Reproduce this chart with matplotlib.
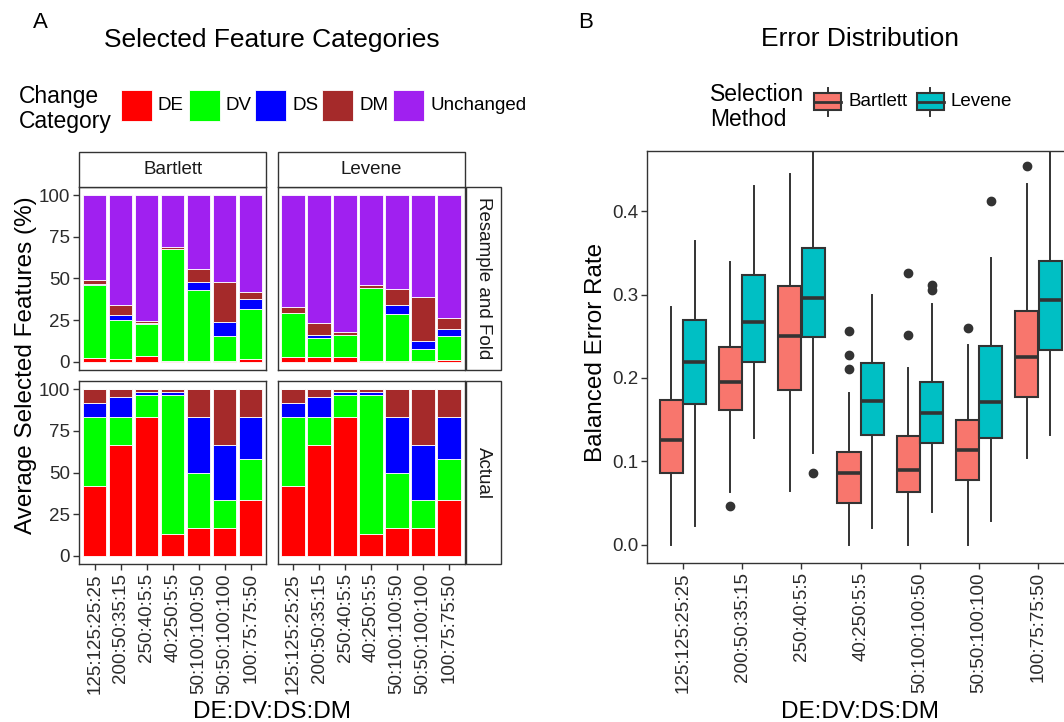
import matplotlib.pyplot as plt
from matplotlib.patches import Rectangle

plt.rcParams['font.family'] = ['Liberation Sans', 'DejaVu Sans']

W, H = 1064, 722
EDGE = '#333333'

ratios = ["125:125:25:25", "200:50:35:15", "250:40:5:5", "40:250:5:5",
          "50:100:100:50", "50:50:100:100", "100:75:75:50"]
categories = ["DE", "DV", "DS", "DM", "Unchanged"]
category_colors = ["#FF0000", "#00FF00", "#0000FF", "#A52A2A", "#A020F0"]
methods = ["Bartlett", "Levene"]
method_colors = ["#F8766D", "#00BFC4"]
rows = ["Resample and Fold", "Actual"]

# average selected features (%), rows in order of categories
resample_bartlett = [
    [2.0, 1.6, 3.4, 0.4, 0.5, 0.3, 1.6],
    [44.0, 23.2, 19.2, 67.0, 42.3, 15.3, 29.8],
    [0.5, 3.2, 0.4, 0.1, 5.2, 8.0, 6.4],
    [2.7, 6.0, 1.4, 1.5, 7.4, 24.4, 3.8],
    [50.8, 66.0, 75.6, 31.0, 44.6, 52.0, 58.4],
]
resample_levene = [
    [2.6, 2.8, 2.8, 0.3, 0.4, 0.3, 1.0],
    [26.4, 11.4, 13.0, 44.1, 28.2, 7.3, 14.2],
    [0.4, 1.8, 0.2, 0.1, 5.2, 4.6, 4.4],
    [3.6, 7.2, 1.8, 1.5, 9.6, 26.4, 6.6],
    [67.0, 76.8, 82.2, 54.0, 56.6, 61.4, 73.8],
]
actual = [
    [41.7, 66.7, 83.3, 13.3, 16.7, 16.7, 33.3],
    [41.7, 16.7, 13.3, 83.3, 33.3, 16.7, 25.0],
    [8.3, 11.7, 1.7, 1.7, 33.3, 33.3, 25.0],
    [8.3, 5.0, 1.7, 1.7, 16.7, 33.3, 16.7],
    [0, 0, 0, 0, 0, 0, 0],
]

# balanced error rate box stats
bartlett_whislo = [0.000, 0.063, 0.064, 0.000, 0.000, 0.000, 0.104]
bartlett_q1 = [0.086, 0.161, 0.186, 0.050, 0.063, 0.078, 0.177]
bartlett_med = [0.125, 0.195, 0.250, 0.086, 0.090, 0.114, 0.225]
bartlett_q3 = [0.174, 0.237, 0.310, 0.111, 0.130, 0.150, 0.280]
bartlett_whishi = [0.285, 0.339, 0.445, 0.182, 0.212, 0.239, 0.433]
bartlett_fliers = [[], [0.046], [], [0.211, 0.227, 0.256], [0.251, 0.326], [0.260], [0.455]]

levene_whislo = [0.022, 0.128, 0.110, 0.020, 0.039, 0.028, 0.132]
levene_q1 = [0.169, 0.219, 0.249, 0.131, 0.122, 0.128, 0.233]
levene_med = [0.219, 0.267, 0.296, 0.172, 0.158, 0.171, 0.294]
levene_q3 = [0.270, 0.324, 0.356, 0.218, 0.195, 0.238, 0.341]
levene_whishi = [0.365, 0.431, 0.490, 0.300, 0.289, 0.344, 0.480]
levene_fliers = [[], [], [0.086], [], [0.306, 0.312], [0.412], []]


def px_axes(fig, x0, y0, x1, y1):
    return fig.add_axes([x0 / W, 1 - y1 / H, (x1 - x0) / W, (y1 - y0) / H])


def style(ax):
    for s in ax.spines.values():
        s.set_color(EDGE)
        s.set_linewidth(1.0)
    ax.tick_params(length=4.5, width=1, color=EDGE, labelsize=13.5,
                   labelcolor='#2b2b2b', pad=2)


fig = plt.figure(figsize=(W / 100, H / 100), dpi=100)

# ---- panel A: stacked bars ----
col_x = [(79.2, 266.3), (277.6, 464.6)]
row_y = [(186.7, 370.0), (381.0, 564.3)]
facet_data = [[resample_bartlett, resample_levene], [actual, actual]]
xpos = list(range(1, len(ratios) + 1))

for r in range(2):
    for c in range(2):
        ax = px_axes(fig, col_x[c][0], row_y[r][0], col_x[c][1], row_y[r][1])
        bottom = [0.0] * len(ratios)
        for k, vals in enumerate(facet_data[r][c]):
            ax.bar(xpos, vals, 0.9, bottom=bottom, color=category_colors[k],
                   edgecolor='white', linewidth=0.6)
            bottom = [b + v for b, v in zip(bottom, vals)]
        ax.set_xlim(0.4, len(ratios) + 0.6)
        ax.set_ylim(-5, 105)
        style(ax)
        ax.set_yticks([0, 25, 50, 75, 100])
        ax.set_xticks(xpos)
        if c == 0:
            ax.set_yticklabels(['0', '25', '50', '75', '100'])
        else:
            ax.tick_params(axis='y', left=False, labelleft=False)
        if r == 1:
            ax.set_xticklabels(ratios, rotation=90)
        else:
            ax.tick_params(axis='x', bottom=False, labelbottom=False)

# ---- panel B: boxplots ----
axb = px_axes(fig, 647.3, 151.0, 1074.0, 563.3)
groups = [
    (bartlett_whislo, bartlett_q1, bartlett_med, bartlett_q3, bartlett_whishi, bartlett_fliers),
    (levene_whislo, levene_q1, levene_med, levene_q3, levene_whishi, levene_fliers),
]
for m, (lo, q1, med, q3, hi, fl) in enumerate(groups):
    stats = [dict(whislo=lo[i], q1=q1[i], med=med[i], q3=q3[i], whishi=hi[i], fliers=fl[i])
             for i in range(len(ratios))]
    offs = -0.197 if m == 0 else 0.197
    axb.bxp(stats, positions=[p + offs for p in xpos], widths=0.39, patch_artist=True,
            showcaps=False, manage_ticks=False,
            boxprops=dict(facecolor=method_colors[m], edgecolor=EDGE, linewidth=1.5),
            medianprops=dict(color=EDGE, linewidth=2.6),
            whiskerprops=dict(color=EDGE, linewidth=1.4),
            flierprops=dict(marker='o', markerfacecolor=EDGE, markeredgecolor=EDGE,
                            markersize=6))
axb.set_xlim(0.4, len(ratios) + 0.6)
axb.set_ylim(-0.0225, 0.4725)
style(axb)
axb.set_xticks(xpos)
axb.set_xticklabels(ratios, rotation=90)
axb.set_yticks([0.0, 0.1, 0.2, 0.3, 0.4])
axb.set_yticklabels(['0.0', '0.1', '0.2', '0.3', '0.4'])

# ---- overlay for strips, legends, titles ----
ov = fig.add_axes([0, 0, 1, 1])
ov.set_xlim(0, W)
ov.set_ylim(H, 0)
ov.axis('off')

for c in range(2):
    x0, x1 = col_x[c]
    ov.add_patch(Rectangle((x0, 151.7), x1 - x0, 186.7 - 151.7, facecolor='white',
                           edgecolor=EDGE, linewidth=1.0))
    ov.text((x0 + x1) / 2, 169.2, methods[c], ha='center', va='center', fontsize=13.5,
            color='#1A1A1A')
for r in range(2):
    y0, y1 = row_y[r]
    ov.add_patch(Rectangle((465.5, y0), 35.2, y1 - y0, facecolor='white',
                           edgecolor=EDGE, linewidth=1.0))
    ov.text(483.1, (y0 + y1) / 2, rows[r], ha='center', va='center', fontsize=13.5,
            rotation=-90, color='#1A1A1A')

# titles / panel tags
ov.text(40, 23, 'A', ha='center', va='center', fontsize=16)
ov.text(586, 23, 'B', ha='center', va='center', fontsize=16)
ov.text(272, 40, 'Selected Feature Categories', ha='center', va='center', fontsize=19)
ov.text(860, 39, 'Error Distribution', ha='center', va='center', fontsize=19)

# axis titles
ov.text(26, 365, 'Average Selected Features (%)', ha='center', va='center',
        rotation=90, fontsize=17.5)
ov.text(272, 712, 'DE:DV:DS:DM', ha='center', va='center', fontsize=17.5)
ov.text(596, 352, 'Balanced Error Rate', ha='center', va='center', rotation=90,
        fontsize=17.5)
ov.text(860, 712, 'DE:DV:DS:DM', ha='center', va='center', fontsize=17.5)

# legend A
ov.text(19, 109, 'Change\nCategory', ha='left', va='center', fontsize=16.5,
        linespacing=1.1)
key_x = [120.7, 188.6, 255.2, 322.4, 393.1]
for k, name in enumerate(categories):
    ov.add_patch(Rectangle((key_x[k], 89.5), 31, 31, facecolor=category_colors[k],
                           edgecolor='white', linewidth=0.6))
    ov.text(key_x[k] + 37, 105, name, ha='left', va='center', fontsize=13.5)

# legend B
ov.text(710, 107, 'Selection\nMethod', ha='left', va='center', fontsize=16.5,
        linespacing=1.1)
leg_x = [814.3, 916.7]
for m, name in enumerate(methods):
    x0 = leg_x[m]
    xc = x0 + 13.5
    ov.plot([xc, xc], [87.7, 93.3], color=EDGE, linewidth=1.4)
    ov.plot([xc, xc], [110.0, 115.5], color=EDGE, linewidth=1.4)
    ov.add_patch(Rectangle((x0, 93.3), 27, 16.7, facecolor=method_colors[m],
                           edgecolor=EDGE, linewidth=1.5))
    ov.plot([x0, x0 + 27], [101.7, 101.7], color=EDGE, linewidth=2.0)
    ov.text(x0 + 34, 102, name, ha='left', va='center', fontsize=13.5)

fig.savefig('out.png', dpi=100)
